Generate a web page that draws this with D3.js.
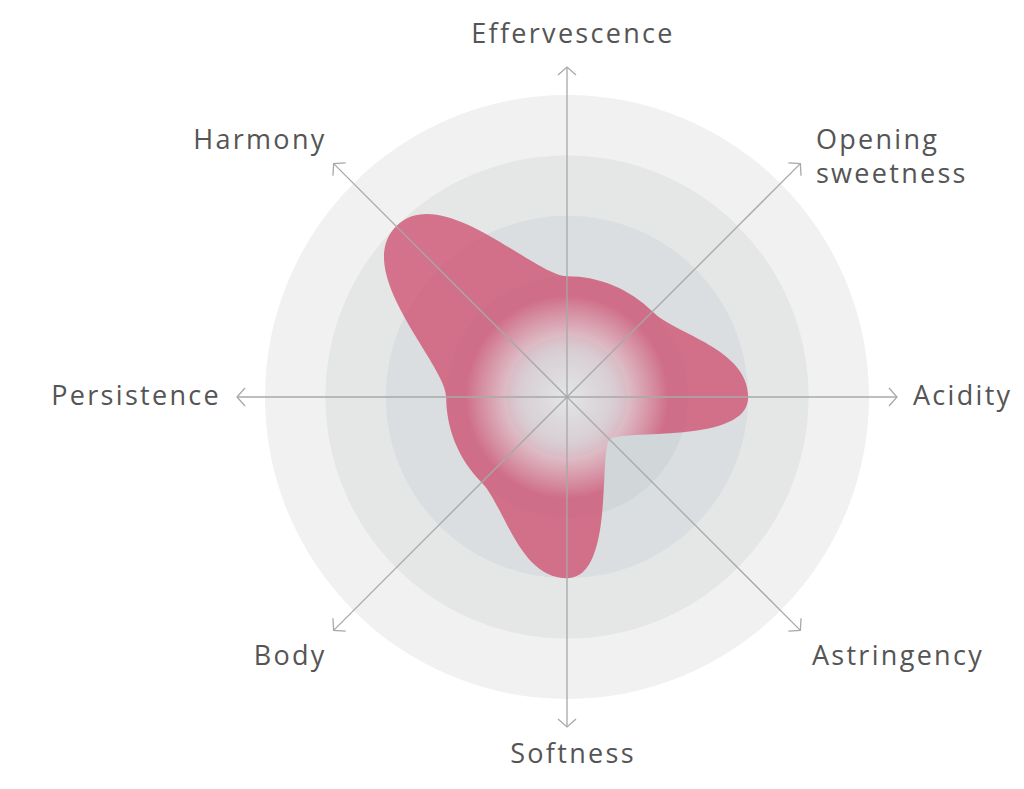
<!DOCTYPE html>
<html>
<head>
<meta charset="utf-8">
<script src="https://cdn.jsdelivr.net/npm/d3@7"></script>
<style>
  body { margin: 0; background: #fff; }
  .label { font-family: "Open Sans", sans-serif; font-size: 27px; fill: #555; letter-spacing: 2.3px; }
</style>
</head>
<body>
<svg id="main" width="1024" height="789"></svg>
<script>
var categories = ["Effervescence", "Opening sweetness", "Acidity", "Astringency",
                  "Softness", "Body", "Persistence", "Harmony"];
var values = [2, 2, 3, 1, 3, 2, 2, 4];
var levels = [5, 4, 3, 2, 1];
var levelColors = ["#f1f1f1", "#e5e6e6", "#dadee0", "#d1d7d9", "#c6ced1"];

var svg = d3.select("#main"),
    cx = 567,
    cy = 397,
    radius = 302,
    axisLen = 330,
    step = 2 * Math.PI / categories.length;

var rScale = d3.scaleLinear()
    .domain([0, 5])
    .range([0, radius]);

// closed curve whose tangents run round the centre (like a circle),
// so equal neighbours join with an arc and the tips come out rounded
function RadialArc(context) { this._context = context; }
RadialArc.prototype = {
    areaStart: function() {},
    areaEnd: function() {},
    lineStart: function() { this._x = []; this._y = []; },
    point: function(x, y) { this._x.push(+x); this._y.push(+y); },
    lineEnd: function() {
        var xs = this._x, ys = this._y, n = xs.length, c = this._context;
        if (!n) return;
        c.moveTo(xs[0], ys[0]);
        for (var i = 0; i < n; i++) {
            var j = (i + 1) % n,
                da = Math.atan2(xs[j], -ys[j]) - Math.atan2(xs[i], -ys[i]);
            da = ((da % (2 * Math.PI)) + 2 * Math.PI) % (2 * Math.PI);
            var k = 4 / 3 * Math.tan(da / 4);
            c.bezierCurveTo(
                xs[i] - k * ys[i], ys[i] + k * xs[i],
                xs[j] + k * ys[j], ys[j] - k * xs[j],
                xs[j], ys[j]);
        }
        c.closePath();
    }
};
function curveRadialArc(context) { return new RadialArc(context); }

var defs = svg.append("defs");

defs.append("marker")
    .attr("id", "arrow")
    .attr("markerUnits", "userSpaceOnUse")
    .attr("viewBox", "-12 -12 24 24")
    .attr("markerWidth", 24)
    .attr("markerHeight", 24)
    .attr("orient", "auto")
    .append("path")
    .attr("d", "M-8,-9L0,0L-8,9")
    .attr("fill", "none")
    .attr("stroke", "#a8a8a8")
    .attr("stroke-width", 1.3);

// shape fill fades to white towards the centre
var grad = defs.append("radialGradient")
    .attr("id", "shapeFill")
    .attr("gradientUnits", "userSpaceOnUse")
    .attr("cx", 0).attr("cy", 0).attr("r", 110);
[[0, "#ffffff", 0.5], [0.4, "#efd2da", 0.45], [0.62, "#e09cae", 0.68], [0.92, "#cf4b6d", 0.75]]
    .forEach(function(s) {
        grad.append("stop")
            .attr("offset", s[0])
            .attr("stop-color", s[1])
            .attr("stop-opacity", s[2]);
    });

var g = svg.append("g")
    .attr("transform", "translate(" + cx + "," + cy + ")");

// background rings
g.selectAll(".ring")
    .data(levels)
    .enter().append("circle")
    .attr("class", "ring")
    .attr("r", function(d) { return rScale(d); })
    .attr("fill", function(d, i) { return levelColors[i]; });

// shape
var line = d3.lineRadial()
    .angle(function(d, i) { return i * step; })
    .radius(function(d) { return rScale(d); })
    .curve(curveRadialArc);

g.append("path")
    .attr("d", line(values))
    .attr("fill", "url(#shapeFill)");

// axes
g.selectAll(".axis")
    .data(categories)
    .enter().append("line")
    .attr("class", "axis")
    .attr("x1", 0)
    .attr("y1", 0)
    .attr("x2", function(d, i) { return axisLen * Math.sin(i * step); })
    .attr("y2", function(d, i) { return -axisLen * Math.cos(i * step); })
    .attr("stroke", "#a8a8a8")
    .attr("stroke-width", 1.3)
    .attr("marker-end", "url(#arrow)");

// labels
var labels = g.selectAll(".label")
    .data(categories)
    .enter().append("text")
    .attr("class", "label")
    .attr("text-anchor", function(d, i) {
        var s = Math.sin(i * step);
        return s > 0.1 ? "start" : (s < -0.1 ? "end" : "middle");
    })
    .attr("transform", function(d, i) {
        var a = i * step,
            s = Math.sin(a),
            c = Math.cos(a);
        var x = 346 * s + 6 * Math.abs(c) - (c < -0.1 && s > 0.1 ? 4 : 0),
            y = -362 * c - 1.5 + (c < -0.9 ? -4.5 : (c < -0.1 ? 4 : 0));
        return "translate(" + x + "," + y + ")";
    });

labels.each(function(d) {
    var words = d.split(" "),
        t = d3.select(this);
    var parts = words.length > 1 && d.length > 12 ? words : [d];
    parts.forEach(function(p, j) {
        t.append("tspan")
            .attr("x", 0)
            .attr("dy", j === 0 ? "0.357em" : "1.25em")
            .text(p);
    });
});
</script>
</body>
</html>
